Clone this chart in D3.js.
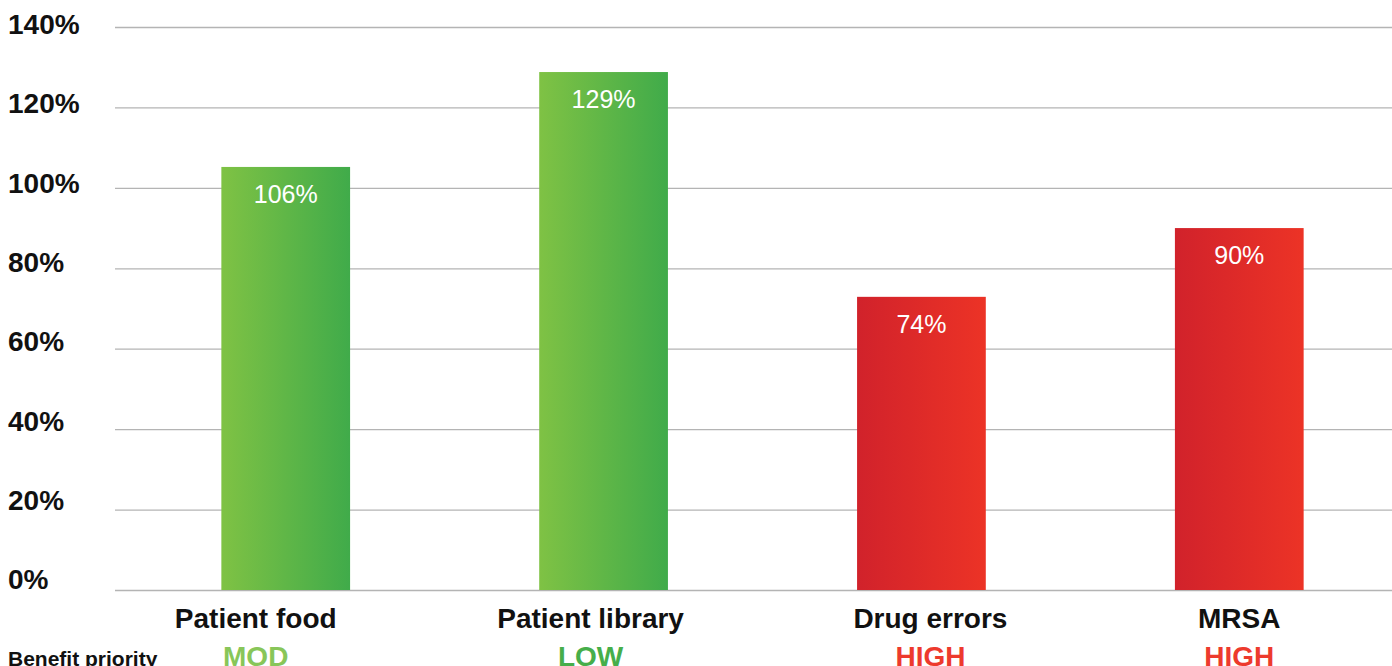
<!DOCTYPE html>
<html>
<head>
<meta charset="utf-8">
<script src="https://cdn.jsdelivr.net/npm/d3@7"></script>
<style>
	body { margin: 0; background: #fff; }
	#chartDiv { width: 1392px; height: 666px; overflow: hidden; }
	text { font-family: "Liberation Sans", Arial, Helvetica, sans-serif; }
</style>
</head>
<body>
<div id="chartDiv"></div>
<script>
// chart data
var categories = ["Patient food", "Patient library", "Drug errors", "MRSA"];
var values = [105.2, 128.8, 72.9, 90.0];          // bar heights as drawn
var valueLabels = ["106%", "129%", "74%", "90%"];  // printed on the bars
var priorities = ["MOD", "LOW", "HIGH", "HIGH"];
var yTicks = [0, 20, 40, 60, 80, 100, 120, 140];

var priorityColor = { MOD: "#88c659", LOW: "#46ae4a", HIGH: "#ed3a2d" };
var barGradient = { MOD: "grad-green", LOW: "grad-green", HIGH: "grad-red" };

// the category text in the original is not quite centred under each bar
var labelShift = [-30, -13, 9, 0];

var width = 1392, height = 666;
var plotLeft = 115, plotRight = 1392;

var svg = d3.select("#chartDiv").append("svg")
	.attr("width", width)
	.attr("height", height);

// gradients for bars
var defs = svg.append("defs");
function addGradient(id, c0, c1) {
	var g = defs.append("linearGradient").attr("id", id)
		.attr("x1", "0%").attr("x2", "100%").attr("y1", "0%").attr("y2", "0%");
	g.append("stop").attr("offset", "0%").attr("stop-color", c0);
	g.append("stop").attr("offset", "100%").attr("stop-color", c1);
}
addGradient("grad-green", "#7fc244", "#40ab4a");
addGradient("grad-red", "#d1222b", "#ec3326");

var y = d3.scaleLinear().domain([0, 140]).range([590, 27]);
// tick labels sit a little above their gridlines, more so further down
var yLab = d3.scaleLinear().domain([0, 140]).range([579, 24]);

var x = d3.scaleBand()
	.domain(categories)
	.range([126, 1399])
	.paddingInner(0.595)
	.paddingOuter(0.3);

function labelX(d, i) { return x(d) + x.bandwidth() / 2 + labelShift[i]; }

//gridlines
svg.append("g")
	.selectAll("line")
	.data(yTicks)
	.enter().append("line")
	.attr("x1", plotLeft)
	.attr("x2", plotRight)
	.attr("y1", function(d) { return y(d) + 0.5; })
	.attr("y2", function(d) { return y(d) + 0.5; })
	.attr("stroke", "#b4b4b4")
	.attr("stroke-width", 1.3);

//y tick labels
svg.append("g")
	.selectAll("text")
	.data(yTicks)
	.enter().append("text")
	.attr("x", 8)
	.attr("y", function(d) { return yLab(d); })
	.attr("dy", "0.36em")
	.attr("font-size", 28)
	.attr("font-weight", "bold")
	.attr("fill", "#111")
	.text(function(d) { return d + "%"; });

//bars
var bar = svg.selectAll(".bar")
	.data(categories)
	.enter().append("g")
	.attr("class", "bar")
	.attr("transform", function(d, i) {
		return "translate(" + x(d) + "," + y(values[i]) + ")";
	});

bar.append("rect")
	.attr("width", x.bandwidth())
	.attr("height", function(d, i) { return y(0) - y(values[i]); })
	.attr("fill", function(d, i) { return "url(#" + barGradient[priorities[i]] + ")"; });

bar.append("text")
	.attr("x", x.bandwidth() / 2)
	.attr("y", 36)
	.attr("text-anchor", "middle")
	.attr("font-size", 25)
	.attr("fill", "#fff")
	.text(function(d, i) { return valueLabels[i]; });

//category labels
svg.append("g")
	.selectAll("text")
	.data(categories)
	.enter().append("text")
	.attr("x", labelX)
	.attr("y", 628)
	.attr("text-anchor", "middle")
	.attr("font-size", 28)
	.attr("font-weight", "bold")
	.attr("fill", "#111")
	.text(function(d) { return d; });

//priority row
svg.append("text")
	.attr("x", 8)
	.attr("y", 666)
	.attr("font-size", 21)
	.attr("font-weight", "bold")
	.attr("fill", "#111")
	.text("Benefit priority");

svg.append("g")
	.selectAll("text")
	.data(categories)
	.enter().append("text")
	.attr("x", labelX)
	.attr("y", 666)
	.attr("text-anchor", "middle")
	.attr("font-size", 28)
	.attr("font-weight", "bold")
	.attr("fill", function(d, i) { return priorityColor[priorities[i]]; })
	.text(function(d, i) { return priorities[i]; });
</script>
</body>
</html>
